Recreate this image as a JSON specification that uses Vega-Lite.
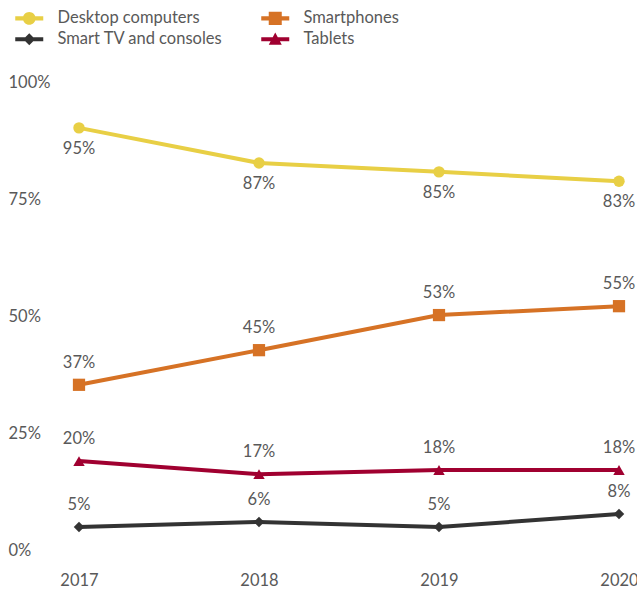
{
  "$schema": "https://vega.github.io/schema/vega-lite/v6.json",
  "width": 540,
  "height": 468,
  "autosize": {"type": "none"},
  "padding": {"left": 79, "top": 82, "right": 18, "bottom": 40},
  "config": {
    "view": {"stroke": null},
    "font": "Lato",
    "legend": {
      "orient": "none",
      "legendX": -58,
      "legendY": -72,
      "columns": 2,
      "columnPadding": 38,
      "rowPadding": 4,
      "symbolSize": 196,
      "labelFontSize": 16.5,
      "labelColor": "#595959",
      "labelOffset": 20,
      "labelLimit": 400,
      "title": null
    }
  },
  "data": {
    "values": [
      {"series": "Desktop computers", "year": "2017", "y": 90.2, "label": "95%"},
      {"series": "Desktop computers", "year": "2018", "y": 82.7, "label": "87%"},
      {"series": "Desktop computers", "year": "2019", "y": 80.8, "label": "85%"},
      {"series": "Desktop computers", "year": "2020", "y": 78.8, "label": "83%"},
      {"series": "Smartphones", "year": "2017", "y": 35.3, "label": "37%"},
      {"series": "Smartphones", "year": "2018", "y": 42.7, "label": "45%"},
      {"series": "Smartphones", "year": "2019", "y": 50.2, "label": "53%"},
      {"series": "Smartphones", "year": "2020", "y": 52.1, "label": "55%"},
      {"series": "Tablets", "year": "2017", "y": 19.0, "label": "20%"},
      {"series": "Tablets", "year": "2018", "y": 16.2, "label": "17%"},
      {"series": "Tablets", "year": "2019", "y": 17.1, "label": "18%"},
      {"series": "Tablets", "year": "2020", "y": 17.1, "label": "18%"},
      {"series": "Smart TV and consoles", "year": "2017", "y": 4.9, "label": "5%"},
      {"series": "Smart TV and consoles", "year": "2018", "y": 6.0, "label": "6%"},
      {"series": "Smart TV and consoles", "year": "2019", "y": 4.9, "label": "5%"},
      {"series": "Smart TV and consoles", "year": "2020", "y": 7.7, "label": "8%"}
    ]
  },
  "encoding": {
    "x": {
      "field": "year",
      "type": "ordinal",
      "scale": {"type": "point", "padding": 0},
      "axis": {
        "title": null,
        "labelAngle": 0,
        "domain": false,
        "ticks": false,
        "grid": false,
        "labelFontSize": 16.5,
        "labelColor": "#595959",
        "labelPadding": 22
      }
    },
    "y": {
      "field": "y",
      "type": "quantitative",
      "scale": {"domain": [0, 100]},
      "axis": {
        "title": null,
        "values": [0, 25, 50, 75, 100],
        "labelExpr": "datum.value + '%'",
        "domain": false,
        "ticks": false,
        "grid": false,
        "labelAlign": "left",
        "labelBaseline": "middle",
        "labelPadding": 71,
        "labelFontSize": 16.5,
        "labelColor": "#595959"
      }
    },
    "color": {
      "field": "series",
      "type": "nominal",
      "sort": null,
      "scale": {
        "domain": ["Desktop computers", "Smart TV and consoles", "Smartphones", "Tablets"],
        "range": ["#E8CF45", "#333333", "#D67225", "#A00030"]
      },
      "legend": {
        "encode": {
          "symbols": {
            "update": {
              "shape": {"signal": "datum.value == 'Desktop computers' ? 'M-2,-0.3 L2,-0.3 L2,0.3 L-2,0.3 Z M0.9,0 A0.9,0.9 0 1,1 -0.9,0 A0.9,0.9 0 1,1 0.9,0 Z' : datum.value == 'Smartphones' ? 'M-2,-0.3 L2,-0.3 L2,0.3 L-2,0.3 Z M-0.93,-0.93 L0.93,-0.93 L0.93,0.93 L-0.93,0.93 Z' : datum.value == 'Tablets' ? 'M-2,-0.3 L2,-0.3 L2,0.3 L-2,0.3 Z M0,-0.95 L0.93,0.8 L-0.93,0.8 Z' : 'M-2,-0.3 L2,-0.3 L2,0.3 L-2,0.3 Z M0,-0.85 L0.85,0 L0,0.85 L-0.85,0 Z'"},
              "fill": {"signal": "scale('color', datum.value)"},
              "stroke": {"value": "transparent"},
              "strokeWidth": {"value": 0},
              "opacity": {"value": 1}
            }
          }
        }
      }
    }
  },
  "layer": [
    {
      "mark": {"type": "line", "strokeWidth": 4}
    },
    {
      "transform": [{"filter": "datum.series == 'Desktop computers'"}],
      "mark": {"type": "point", "filled": true, "opacity": 1, "size": 130, "shape": "circle"}
    },
    {
      "transform": [{"filter": "datum.series == 'Smartphones'"}],
      "mark": {"type": "point", "filled": true, "opacity": 1, "size": 150, "shape": "square"}
    },
    {
      "transform": [{"filter": "datum.series == 'Smart TV and consoles'"}],
      "mark": {"type": "point", "filled": true, "opacity": 1, "size": 110, "shape": "diamond"}
    },
    {
      "transform": [{"filter": "datum.series == 'Tablets'"}],
      "mark": {"type": "point", "filled": true, "opacity": 1, "size": 130, "shape": "triangle-up"}
    },
    {
      "transform": [{"filter": "datum.series == 'Desktop computers'"}],
      "mark": {"type": "text", "dy": 21, "fontSize": 16.5, "baseline": "middle"},
      "encoding": {"text": {"field": "label"}, "color": {"value": "#595959"}}
    },
    {
      "transform": [{"filter": "datum.series != 'Desktop computers'"}],
      "mark": {"type": "text", "dy": -22, "fontSize": 16.5, "baseline": "middle"},
      "encoding": {"text": {"field": "label"}, "color": {"value": "#595959"}}
    }
  ]
}
